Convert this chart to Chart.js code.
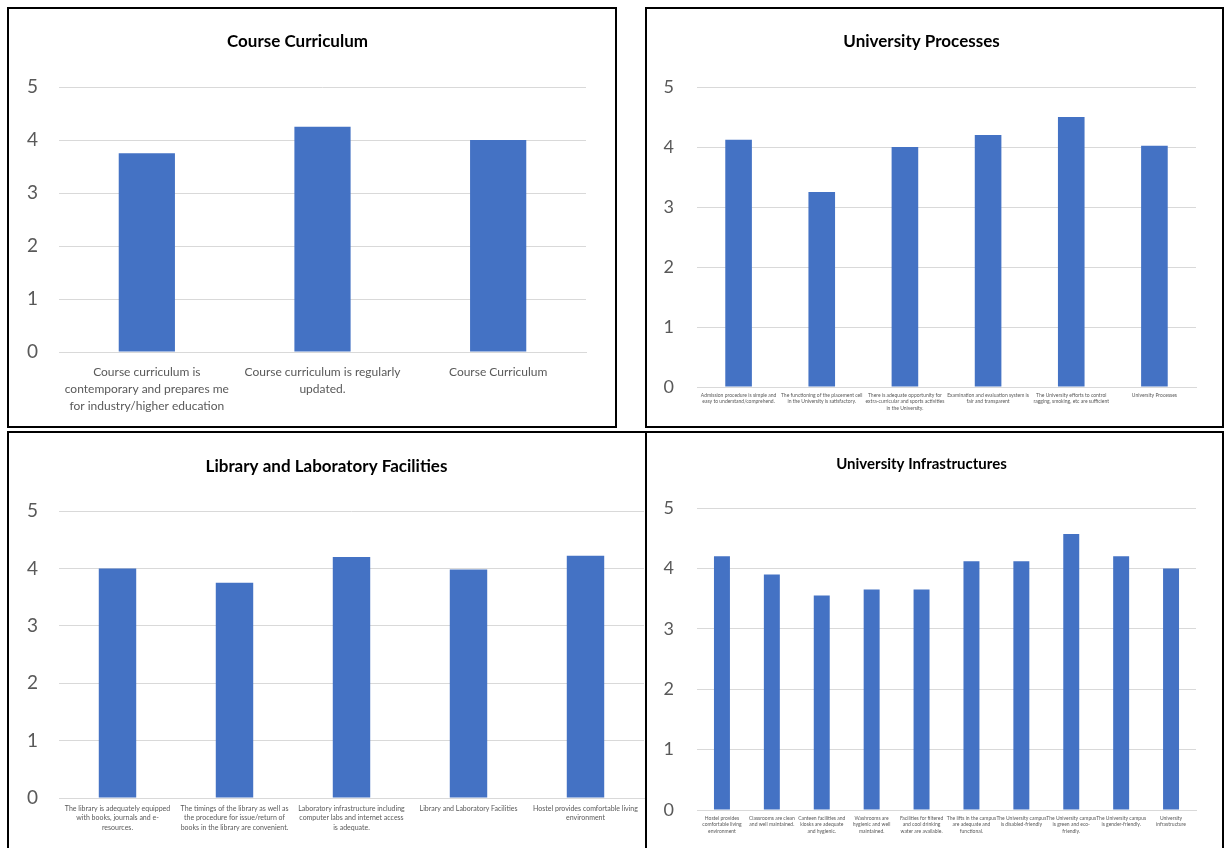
<!DOCTYPE html>
<html>
<head>
<meta charset="utf-8">
<script src="https://cdn.jsdelivr.net/npm/chart.js@4"></script>
<style>
  body { margin: 0; background: #fff; width: 1226px; height: 848px; overflow: hidden; position: relative; }
  .panel { position: absolute; border: 2px solid #000; box-sizing: border-box; }
  .panel canvas { position: absolute; left: 0; top: 0; }
</style>
</head>
<body>
<div class="panel" style="left:7px;top:7px;width:610px;height:421px;"><canvas id="c1" width="606" height="417"></canvas></div>
<div class="panel" style="left:645px;top:7px;width:579px;height:421px;"><canvas id="c2" width="575" height="417"></canvas></div>
<div class="panel" style="left:7px;top:431px;width:640px;height:430px;"><canvas id="c3" width="636" height="426"></canvas></div>
<div class="panel" style="left:645px;top:431px;width:579px;height:430px;"><canvas id="c4" width="575" height="426"></canvas></div>
<script>
// Course Curriculum
const curriculumCats = [
  ['Course curriculum is', 'contemporary and prepares me', 'for industry/higher education'],
  ['Course curriculum is regularly', 'updated.'],
  'Course Curriculum'
];
const curriculumVals = [3.75, 4.25, 4.0];

// University Processes
const processCats = [
  ['Admission procedure is simple and', 'easy to understand/comprehend.'],
  ['The functioning of the placement cell', 'in the University is satisfactory.'],
  ['There is adequate opportunity for', 'extra-curricular and sports activities', 'in the University.'],
  ['Examination and evaluation system is', 'fair and transparent'],
  ['The University efforts to control', 'ragging, smoking, etc are sufficient'],
  'University Processes'
];
const processVals = [4.12, 3.25, 4.0, 4.2, 4.5, 4.02];

// Library and Laboratory Facilities
const libraryCats = [
  ['The library is adequately equipped', 'with books, journals and e-', 'resources.'],
  ['The timings of the library as well as', 'the procedure for issue/return of', 'books in the library are convenient.'],
  ['Laboratory infrastructure including', 'computer labs and internet access', 'is adequate.'],
  'Library and Laboratory Facilities',
  ['Hostel provides comfortable living', 'environment']
];
const libraryVals = [4.0, 3.75, 4.2, 3.98, 4.22];

// University Infrastructures
const infraCats = [
  ['Hostel provides', 'comfortable living', 'environment'],
  ['Classrooms are clean', 'and well maintained.'],
  ['Canteen facilities and', 'kiosks are adequate', 'and hygienic.'],
  ['Washrooms are', 'hygienic and well', 'maintained.'],
  ['Facilities for filtered', 'and cool drinking', 'water are available.'],
  ['The lifts in the campus', 'are adequate and', 'functional.'],
  ['The University campus', 'is disabled-friendly'],
  ['The University campus', 'is green and eco-', 'friendly.'],
  ['The University campus', 'is gender-friendly.'],
  ['University', 'infrastructure']
];
const infraVals = [4.2, 3.9, 3.55, 3.65, 3.65, 4.12, 4.12, 4.57, 4.2, 4.0];

const yTicks = [0, 1, 2, 3, 4, 5];

const FONT = 'Lato, "Open Sans", sans-serif';

function makeChart(id, title, cats, vals, o) {
  new Chart(document.getElementById(id), {
    type: 'bar',
    data: {
      labels: cats,
      datasets: [{
        data: vals,
        backgroundColor: '#4472C4',
        barPercentage: 0.32,
        categoryPercentage: 1
      }]
    },
    options: {
      responsive: false,
      animation: false,
      layout: { padding: { left: 0, right: o.right, top: 0, bottom: 0 } },
      plugins: {
        legend: { display: false },
        tooltip: { enabled: false },
        title: {
          display: true,
          text: title,
          color: '#000',
          font: { family: FONT, size: o.titleSize, weight: 'bold', lineHeight: 1.2 },
          padding: { top: o.titleTop, bottom: o.titleBottom }
        }
      },
      scales: {
        x: {
          grid: { display: false, drawTicks: false },
          border: { color: '#d9d9d9' },
          ticks: {
            color: '#595959',
            font: { family: FONT, size: o.xSize, lineHeight: o.xLine },
            maxRotation: 0, minRotation: 0, autoSkip: false,
            padding: o.xPad
          },
          afterFit: s => { s.height = o.xH; }
        },
        y: {
          min: yTicks[0],
          max: yTicks[yTicks.length - 1],
          grid: { color: '#d9d9d9', drawTicks: false },
          border: { display: false },
          ticks: {
            stepSize: 1,
            color: '#595959',
            font: { family: FONT, size: o.ySize },
            padding: o.yPad
          },
          afterFit: s => { s.width = o.yW; }
        }
      }
    }
  });
}

makeChart('c1', 'Course Curriculum', curriculumCats, curriculumVals,
  { right: 29, yW: 50, xH: 74, titleSize: 17, titleTop: 22, titleBottom: 35.6, xSize: 12, xLine: 1.4, xPad: 12, ySize: 19, yPad: 21 });
makeChart('c2', 'University Processes', processCats, processVals,
  { right: 26, yW: 50, xH: 39, titleSize: 17, titleTop: 22, titleBottom: 35.6, xSize: 5, xLine: 1.3, xPad: 5, ySize: 18, yPad: 23 });
makeChart('c3', 'Library and Laboratory Facilities', libraryCats, libraryVals,
  { right: 1, yW: 50, xH: 61, titleSize: 17, titleTop: 23, titleBottom: 34.6, xSize: 7, xLine: 1.35, xPad: 6, ySize: 19, yPad: 21 });
makeChart('c4', 'University Infrastructures', infraCats, infraVals,
  { right: 26, yW: 50, xH: 49, titleSize: 15, titleTop: 22, titleBottom: 35, xSize: 5, xLine: 1.3, xPad: 5, ySize: 18, yPad: 23 });
</script>
</body>
</html>
